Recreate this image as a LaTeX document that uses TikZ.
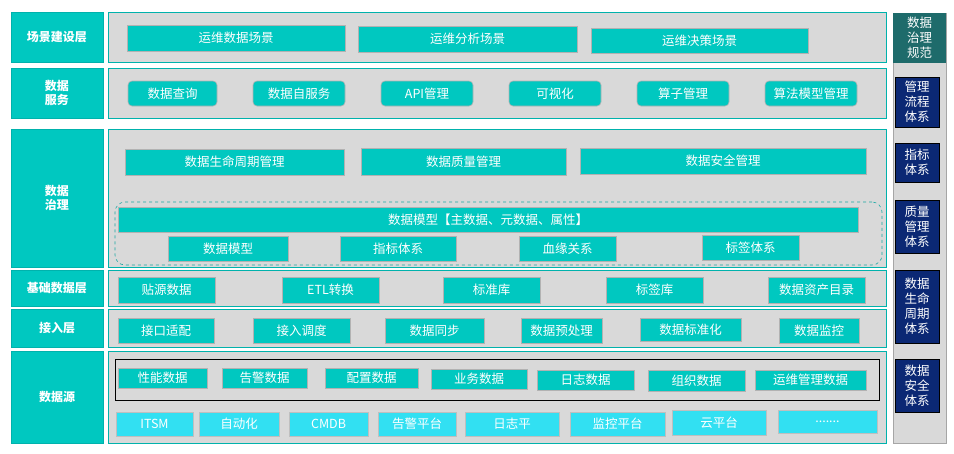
\documentclass[tikz,border=0pt]{standalone}
\usepackage{fontspec}
\setmainfont{Noto Sans CJK SC}
\definecolor{tl}{RGB}{0,200,192}
\definecolor{tlb}{RGB}{0,178,172}
\definecolor{cy}{RGB}{50,224,242}
\definecolor{gr}{RGB}{217,217,217}
\definecolor{nv}{RGB}{11,40,116}
\definecolor{dt}{RGB}{30,107,107}
\tikzset{
 lab/.style={fill=tl,draw=tlb,line width=0.8pt,text=white,font=\fontsize{12}{14}\selectfont\bfseries,align=center},
 pan/.style={fill=gr,draw=tlb,line width=0.8pt},
 bx/.style={fill=tl,draw=gray!60,line width=0.6pt,text=white,font=\fontsize{12.5}{14}\selectfont},
 rb/.style={bx,rounded corners=4pt},
 cb/.style={fill=cy,draw=gray!50,line width=0.6pt,text=white,font=\fontsize{12.5}{14}\selectfont},
 nb/.style={fill=nv,draw=black,line width=0.8pt,text=white,font=\fontsize{12.5}{15}\selectfont,align=center},
}
\newcommand\bx[7]{\node[#7,inner sep=0pt,minimum width={(#4-#2)*1pt},minimum height={(#5-#3)*1pt}] (#1) at ({(#2+#4)/2},{(#3+#5)/2}) {#6};}
\begin{document}
\begin{tikzpicture}[x=1pt,y=-1pt]
\useasboundingbox (0,0) rectangle (954,453);
% left labels
\bx{l1}{11}{12}{103}{62}{场景建设层}{lab}
\bx{l2}{11}{68}{103}{118}{数据\\服务}{lab}
\bx{l3}{11}{129}{103}{267}{数据\\治理}{lab}
\bx{l4}{11}{270}{103}{306}{基础数据层}{lab}
\bx{l5}{11}{309}{103}{347}{接入层}{lab}
\bx{l6}{11}{351}{103}{443}{数据源}{lab}
% panels
\bx{p1}{108}{12}{886}{62}{}{pan}
\bx{p2}{108}{68}{886}{118}{}{pan}
\bx{p3}{108}{129}{886}{267}{}{pan}
\bx{p4}{108}{270}{886}{306}{}{pan}
\bx{p5}{108}{309}{886}{347}{}{pan}
\bx{p6}{108}{351}{886}{443}{}{pan}
% right column
\bx{rc}{893}{13}{946}{443}{}{fill=gr,draw=gray!70,line width=0.8pt}
\bx{rh}{893}{13}{946}{63}{数据\\治理\\规范}{fill=dt,text=white,font=\fontsize{12.5}{15}\selectfont,align=center}
\bx{n1}{895}{77}{939}{127}{管理\\流程\\体系}{nb}
\bx{n2}{895}{143}{939}{182}{指标\\体系}{nb}
\bx{n3}{895}{200}{939}{253}{质量\\管理\\体系}{nb}
\bx{n4}{895}{270}{939}{343}{数据\\生命\\周期\\体系}{nb}
\bx{n5}{895}{359}{939}{412}{数据\\安全\\体系}{nb}
% row 1
\bx{a1}{127}{25}{345}{51}{运维数据场景}{bx}
\bx{a2}{358}{26}{577}{52}{运维分析场景}{bx}
\bx{a3}{591}{28}{808}{53}{运维决策场景}{bx}
% row 2
\bx{b1}{128}{81}{217}{106}{数据查询}{rb}
\bx{b2}{253}{81}{345}{106}{数据自服务}{rb}
\bx{b3}{381}{81}{473}{106}{API管理}{rb}
\bx{b4}{509}{81}{601}{106}{可视化}{rb}
\bx{b5}{637}{81}{729}{106}{算子管理}{rb}
\bx{b6}{765}{81}{857}{106}{算法模型管理}{rb}
% governance
\bx{c1}{125}{149}{344}{175}{数据生命周期管理}{bx}
\bx{c2}{361}{148}{566}{175}{数据质量管理}{bx}
\bx{c3}{580}{148}{866}{174}{数据安全管理}{bx}
\bx{cd}{115}{202}{882}{265}{}{draw=tlb!80!gray,dashed,rounded corners=10pt,line width=0.6pt}
\bx{cm}{118}{207}{858}{232}{数据模型【主数据、元数据、属性】}{bx}
\bx{d1}{168}{236}{288}{261}{数据模型}{bx}
\bx{d2}{340}{236}{456}{261}{指标体系}{bx}
\bx{d3}{519}{236}{616}{261}{血缘关系}{bx}
\bx{d4}{702}{235}{799}{260}{标签体系}{bx}
% base
\bx{e1}{118}{277}{215}{303}{贴源数据}{bx}
\bx{e2}{282}{277}{379}{303}{ETL转换}{bx}
\bx{e3}{443}{277}{540}{303}{标准库}{bx}
\bx{e4}{606}{277}{703}{303}{标签库}{bx}
\bx{e5}{768}{277}{865}{303}{数据资产目录}{bx}
% access
\bx{f1}{118}{318}{214}{343}{接口适配}{bx}
\bx{f2}{253}{318}{350}{343}{接入调度}{bx}
\bx{f3}{385}{318}{484}{343}{数据同步}{bx}
\bx{f4}{521}{318}{602}{343}{数据预处理}{bx}
\bx{f5}{640}{318}{741}{341}{数据标准化}{bx}
\bx{f6}{779}{318}{859}{343}{数据监控}{bx}
% source
\bx{gb}{115}{359}{879}{400}{}{draw=black,line width=0.8pt}
\bx{g1}{118}{368}{207}{388}{性能数据}{bx}
\bx{g2}{222}{368}{307}{388}{告警数据}{bx}
\bx{g3}{325}{368}{418}{388}{配置数据}{bx}
\bx{g4}{431}{369}{527}{389}{业务数据}{bx}
\bx{g5}{537}{370}{634}{390}{日志数据}{bx}
\bx{g6}{648}{370}{745}{391}{组织数据}{bx}
\bx{g7}{755}{370}{866}{390}{运维管理数据}{bx}
\bx{h1}{116}{412}{193}{436}{ITSM}{cb}
\bx{h2}{199}{412}{279}{436}{自动化}{cb}
\bx{h3}{289}{412}{368}{436}{CMDB}{cb}
\bx{h4}{378}{412}{456}{436}{告警平台}{cb}
\bx{h5}{465}{412}{559}{436}{日志平}{cb}
\bx{h6}{570}{412}{665}{436}{监控平台}{cb}
\bx{h7}{672}{410}{766}{435}{云平台}{cb}
\bx{h8}{778}{410}{877}{433}{.......}{cb}
\end{tikzpicture}
\end{document}
